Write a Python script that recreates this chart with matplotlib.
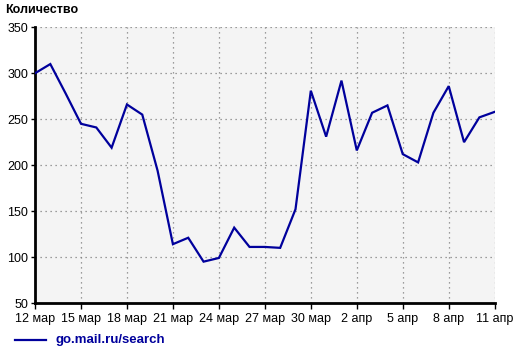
import matplotlib
matplotlib.use("Agg")
import matplotlib.pyplot as plt
from matplotlib.lines import Line2D

plt.rcParams['font.family'] = ['Liberation Sans', 'DejaVu Sans']

days = list(range(31))
values = [300, 310, 278, 245, 241, 219, 266, 255, 194, 114, 121, 95, 99, 132, 111,
          111, 110, 152, 281, 231, 292, 216, 257, 265, 212, 203, 257, 286, 225, 252, 258]
tick_days = [0, 3, 6, 9, 12, 15, 18, 21, 24, 27, 30]
tick_labels = ['12 мар', '15 мар', '18 мар', '21 мар', '24 мар', '27 мар',
               '30 мар', '2 апр', '5 апр', '8 апр', '11 апр']
y_ticks = [50, 100, 150, 200, 250, 300, 350]
series_name = 'go.mail.ru/search'
y_title = 'Количество'

W, H = 517, 357
fig = plt.figure(figsize=(W / 100, H / 100), dpi=100)
ax = fig.add_axes([35 / W, 1 - 303 / H, (494.7 - 35) / W, (303 - 27.3) / H])
ax.set_facecolor('#f4f4f4')

color = '#00009c'
ax.plot(days, values, color=color, lw=1.6, solid_joinstyle='miter', zorder=3)

ax.set_xlim(0, 30)
ax.set_ylim(50, 350)
ax.set_xticks(tick_days)
ax.set_xticklabels(tick_labels)
ax.set_yticks(y_ticks)
ax.tick_params(axis='both', labelsize=9, colors='black', width=1, length=3, pad=2)
ax.tick_params(axis='x', length=4, pad=3)
ax.grid(True, color='#808080', linestyle=(0, (1, 3)), linewidth=0.9)
ax.set_axisbelow(True)

for s in ['top', 'right']:
    ax.spines[s].set_visible(False)
for s in ['left', 'bottom']:
    ax.spines[s].set_linewidth(2)
    ax.spines[s].set_color('black')

fig.text(5 / W, 1 - 10 / H, y_title, fontsize=9, fontweight='bold', va='center', ha='left')

fig.add_artist(Line2D([15 / W, 46 / W], [1 - 340 / H, 1 - 340 / H], color=color, lw=1.6,
                      transform=fig.transFigure))
fig.text(55 / W, 1 - 340 / H, series_name, fontsize=9.5, fontweight='bold', color=color,
         va='center', ha='left')

fig.savefig('out.png', dpi=100)
